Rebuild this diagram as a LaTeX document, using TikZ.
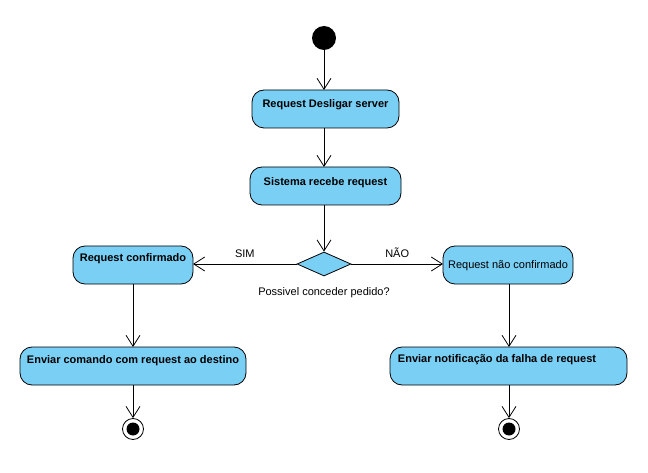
\documentclass[tikz,border=0pt]{standalone}
\usepackage{fontspec}
\setmainfont{Liberation Sans}
\usetikzlibrary{arrows.meta,shapes.geometric}
\definecolor{actfill}{RGB}{122,207,245}
\tikzset{
  x=1pt,y=-1pt,
  act/.style={draw=black,fill=actfill,rounded corners=12pt,line width=0.8pt,inner sep=0pt},
  lbl/.style={font=\fontsize{11}{13}\selectfont\bfseries,anchor=north,inner sep=0pt},
  plain/.style={font=\fontsize{11}{13}\selectfont,inner sep=0pt},
  flow/.style={draw=black,line width=0.8pt,-{Straight Barb[length=11pt,width=14pt,line width=0.8pt]}},
}
\begin{document}
\begin{tikzpicture}
\useasboundingbox (0,0) rectangle (648,473);
% initial node
\node[circle,fill=black,minimum size=24pt,inner sep=0pt] (start) at (324,38) {};
% activities (boxes drawn as rectangles, labels set near the top)
\draw[act] (252,90) rectangle (399,128);
\coordinate (a1t) at (324,90); \coordinate (a1b) at (324,128);
\node[lbl] (t1) at (325.5,99) {Request Desligar server};
\draw[act] (250,167) rectangle (401,205);
\coordinate (a2t) at (324,167); \coordinate (a2b) at (324,205);
\node[lbl] (t2) at (325.5,177) {Sistema recebe request};
% decision
\node[diamond,draw=black,fill=actfill,line width=0.8pt,minimum width=54pt,minimum height=24pt,inner sep=0pt,aspect=2.25] (dec) at (324,264) {};
\node[plain] (q) at (324,293) {Possivel conceder pedido?};
\draw[act] (73,246) rectangle (193,284);
\coordinate (lr) at (193,264); \coordinate (lb) at (133,284);
\node[lbl] (t3) at (133,253) {Request confirmado};
\draw[act] (443,246) rectangle (573,284);
\coordinate (rl) at (443,264); \coordinate (rb) at (509,284);
\node[plain] (t4) at (508,266) {Request não confirmado};
\draw[act] (20,347) rectangle (246,385);
\coordinate (l2t) at (133,347); \coordinate (l2b) at (133,385);
\node[lbl] (t5) at (133,355) {Enviar comando com request ao destino};
\draw[act] (390,347) rectangle (627,385);
\coordinate (r2t) at (509,347); \coordinate (r2b) at (509,385);
\node[lbl] (t6) at (497,354) {Enviar notificação da falha de request};
% final nodes
\node[circle,draw=black,line width=0.8pt,fill=white,minimum size=21pt,inner sep=0pt] (endl) at (133,429) {};
\fill[black] (endl.center) circle (6.5pt);
\node[circle,draw=black,line width=0.8pt,fill=white,minimum size=21pt,inner sep=0pt] (endr) at (509,429) {};
\fill[black] (endr.center) circle (6.5pt);
% flows
\draw[flow] (start.south) -- (a1t);
\draw[flow] (a1b) -- (a2t);
\draw[flow] (a2b) -- (dec.north);
\draw[flow] (dec.west) -- node[plain,above=6pt,pos=0.5] (sim) {SIM} (lr);
\draw[flow] (dec.east) -- node[plain,above=6pt,pos=0.5] (nao) {NÃO} (rl);
\draw[flow] (lb) -- (l2t);
\draw[flow] (rb) -- (r2t);
\draw[flow] (l2b) -- (endl.north);
\draw[flow] (r2b) -- (endr.north);
\end{tikzpicture}
\end{document}
